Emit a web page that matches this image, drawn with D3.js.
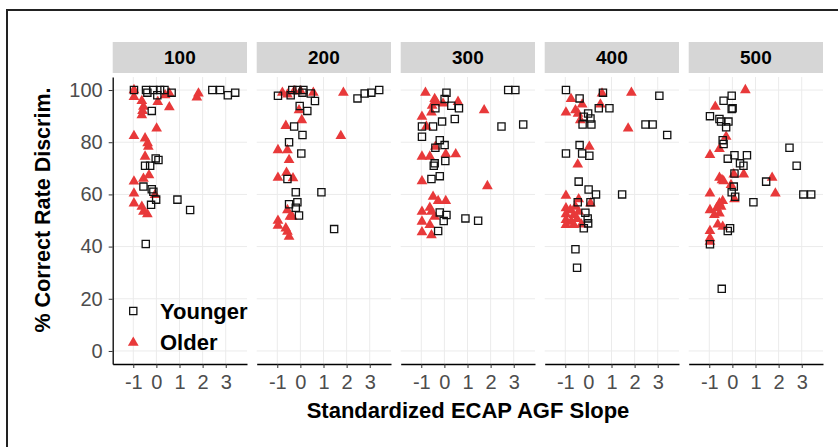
<!DOCTYPE html>
<html>
<head>
<meta charset="utf-8">
<script src="https://cdn.jsdelivr.net/npm/d3@7"></script>
<style>
  body { margin: 0; background: #fff; }
  text { font-family: "Liberation Sans", Arial, sans-serif; }
</style>
</head>
<body>
<script>
// facet labels
var panels = ["100", "200", "300", "400", "500"];
var xTicks = [-1, 0, 1, 2, 3];
var yTicks = [0, 20, 40, 60, 80, 100];

// [slope, % correct]
var young100 = [[-0.97,100],[-0.45,100],[-0.39,99],[-0.13,100],[0.04,98],[0.16,100],[0.35,100],[0.66,99],
  [2.42,100],[2.76,100],[3.09,98],[3.41,99],[-0.2,92],[-0.03,73.8],[0.09,73.2],[-0.49,71],[-0.27,71],
  [-0.56,63],[-0.2,62],[-0.13,61],[-0.01,58],[-0.23,56],[0.91,58],[1.46,54],[-0.46,41]];
var old100 = [[-0.97,100],[-0.97,97.4],[-0.63,95.8],[-0.56,93.6],[-0.6,92],[-0.63,90.4],[0.06,95.5],[0.56,93.4],
  [0.01,85.3],[-0.97,82.4],[-0.49,81.5],[-0.38,79.6],[-0.35,78.3],[-0.49,74.5],[-0.97,65],[-0.56,66],
  [-0.32,67.4],[-0.97,60.4],[-0.06,59.8],[-0.97,56.6],[-0.63,55.3],[-0.56,53.4],[-0.39,52.4],
  [1.82,98.7],[1.75,97.2],[0.56,98.7],[0.38,98]];

var young200 = [[-0.97,97.8],[-0.42,98],[-0.35,100],[-0.13,100],[0.13,100],[0.09,99],[0.45,98.7],[0.63,95.8],
  [2.47,96.8],[2.78,98.7],[3.07,99],[3.41,100],[-0.03,93.9],[0.3,92],[-0.27,86],[0.09,82.8],[-0.49,80],
  [0.04,75.7],[-0.56,65.9],[-0.2,60.8],[0.91,60.8],[-0.49,56.2],[-0.13,57],[-0.2,54.9],[-0.06,51.9],[1.46,46.7]];
var old200 = [[-0.78,99],[-0.56,98.3],[-0.27,99.6],[0.01,99.6],[0.56,99],[1.86,99],[-0.06,92.3],[0.06,88.5],
  [-0.63,86.3],[1.75,82.4],[-0.97,77],[-0.56,77],[-0.49,73.2],[-0.97,66.4],[-0.6,68.3],[-0.32,66.2],
  [-0.56,54],[-0.45,51.5],[-0.35,51.5],[-0.97,49.9],[-0.97,48],[-0.63,47],[-0.56,45.7],[-0.49,43.8]];

var young300 = [[0.09,99],[0.01,96.6],[-0.39,93],[0.3,94],[0.63,93],[2.76,100],[3.07,100],[-0.1,87.9],
  [0.45,88.9],[-0.97,86],[-0.49,86],[2.47,86],[3.41,86.8],[-0.97,82.1],[-0.2,80.8],[0.01,78.9],[-0.39,77.9],
  [0.04,72.8],[-0.42,71.9],[-0.46,71],[-0.2,67],[-0.56,65.9],[-0.2,53.1],[0.09,52.1],[-0.03,49.8],
  [0.91,50.8],[1.46,49.9],[-0.27,46]];
var old300 = [[-0.82,99],[-0.42,96.6],[-0.35,95.3],[-0.53,94],[-0.06,94.9],[0.59,95.5],[1.72,92.3],[-0.97,89.8],
  [-0.56,91.4],[-0.78,86],[-0.39,78.3],[-0.97,74.5],[-0.63,74.5],[0.06,75.4],[0.49,75.4],[-0.97,65.1],
  [1.86,63.2],[-0.49,59.1],[-0.27,57.5],[0.06,57.5],[-0.63,54.9],[-0.97,53.4],[-0.56,53.4],[-0.97,49.6],
  [-0.63,48.3],[-0.97,45.5],[-0.56,44.4],[-0.42,51.5]];

var young400 = [[-0.97,100],[-0.38,96.8],[0.63,99],[3.07,97.8],[0.45,93],[0.91,93],[-0.01,91],[-0.2,89.8],
  [0.09,89.1],[-0.25,86.8],[0.13,86.8],[2.47,86.8],[2.78,86.8],[3.41,82.8],[-0.38,78.9],[-0.97,75.7],
  [-0.27,75.7],[0.04,74.8],[-0.42,64.9],[0.01,61.9],[0.33,60],[1.46,60],[-0.46,57],[0.09,57],[-0.13,53],
  [-0.03,50.8],[-0.01,48.9],[-0.2,47],[-0.56,39],[-0.49,31.9]];
var old400 = [[-0.75,96.6],[-0.27,94.5],[-0.97,91.4],[-0.56,92.3],[-0.45,91],[-0.35,88.5],[0.59,98.7],[0.52,94.5],
  [1.86,99],[1.72,85.3],[0.04,78.3],[-0.46,71.5],[-0.97,59.5],[-0.42,58.2],[0.09,56.6],[-0.97,54.7],
  [-0.78,54],[-0.56,55.3],[-0.97,52.4],[-0.63,52.1],[-0.97,50.2],[-0.74,49.6],[-0.49,50.6],[-0.97,48.3],
  [-0.63,48.3],[-0.3,48.5],[-0.42,53.4]];

var young500 = [[-0.03,97.8],[-0.38,95.9],[0.01,93],[-0.03,92.7],[-0.97,90],[-0.56,88.9],[-0.49,87.9],[-0.17,87.9],
  [-0.27,85.7],[-0.42,80.8],[-0.38,79.3],[2.47,77.9],[-0.2,73.7],[0.09,75],[0.63,75],[0.33,71.9],[0.48,71],
  [2.78,71],[0.09,68],[1.46,64.9],[0.06,63],[-0.03,60.8],[0.12,59.1],[3.07,60],[3.41,60],[0.91,57],
  [-0.1,47],[-0.2,46],[-0.97,40.9],[-0.46,23.8]];
var old500 = [[0.56,100],[-0.74,93.6],[-0.27,82.1],[-0.56,77.4],[-0.97,75.1],[-0.45,65.5],[-0.56,66.4],[-0.38,65.1],
  [0.06,67.7],[0.49,67.7],[-0.06,63.6],[1.72,66.4],[1.86,60.4],[-0.97,60.4],[0.09,58.2],[-0.42,57.5],
  [-0.56,56.6],[-0.97,54],[-0.68,54.7],[-0.49,55.3],[-0.78,52.1],[-0.56,52.7],[-0.63,48.5],[-0.42,47.6],
  [-0.97,46],[-0.97,43.2],[-0.97,41.9]];

var younger = [young100, young200, young300, young400, young500];
var older = [old100, old200, old300, old400, old500];

var width = 838, height = 447;
var panelLeft = 112.7, panelW = 134.3, step = 144;
var stripTop = 42, stripH = 31;
var plotTop = 77, plotBottom = 364;
var red = "#e8393a";
var fontStack = "'Liberation Sans', Arial, sans-serif";

var svg = d3.select("body").append("svg")
  .attr("width", width)
  .attr("height", height);

svg.append("rect").attr("width", width).attr("height", height).attr("fill", "#fff");

// outer frame (only the top/left edges show)
svg.append("path")
  .attr("d", "M7," + height + "V10H" + width)
  .attr("fill", "none")
  .attr("stroke", "#222")
  .attr("stroke-width", 2);

var x = d3.scaleLinear().domain([-1.89, 3.92]).range([0, panelW]);
var y = d3.scaleLinear().domain([-5, 105]).range([plotBottom, plotTop]);

var square = d3.symbol().type(d3.symbolSquare).size(52);
var triangle = d3.symbol().type(d3.symbolTriangle).size(50);
var plain = function (d) { return String(d); };

panels.forEach(function (p, i) {
  var g = svg.append("g")
    .attr("transform", "translate(" + (panelLeft + i * step) + ",0)");

  g.append("rect")
    .attr("x", 0).attr("y", stripTop)
    .attr("width", panelW).attr("height", stripH)
    .attr("fill", "#d6d6d6");
  g.append("text")
    .attr("x", panelW / 2).attr("y", stripTop + stripH / 2)
    .attr("text-anchor", "middle")
    .attr("dominant-baseline", "central")
    .attr("font-weight", "bold")
    .attr("font-size", 19)
    .text(p);

  // grid
  g.selectAll(".vg").data(xTicks).enter().append("line")
    .attr("x1", function (d) { return x(d); }).attr("x2", function (d) { return x(d); })
    .attr("y1", plotTop).attr("y2", plotBottom)
    .attr("stroke", "#ebebeb").attr("stroke-width", 1);
  g.selectAll(".hg").data(yTicks).enter().append("line")
    .attr("x1", 0).attr("x2", panelW)
    .attr("y1", function (d) { return y(d); }).attr("y2", function (d) { return y(d); })
    .attr("stroke", "#ebebeb").attr("stroke-width", 1);

  // x axis
  var xa = g.append("g")
    .attr("transform", "translate(0," + plotBottom + ")")
    .call(d3.axisBottom(x).tickValues(xTicks).tickFormat(plain)
      .tickSize(4).tickSizeOuter(0).tickPadding(7));
  xa.select(".domain").attr("stroke", "#000").attr("stroke-width", 1.3);
  xa.selectAll(".tick line").attr("stroke", "#333");
  xa.selectAll(".tick text")
    .attr("fill", "#4d4d4d").attr("font-size", 20)
    .attr("font-family", fontStack);

  if (i === 0) {
    var ya = g.append("g")
      .call(d3.axisLeft(y).tickValues(yTicks).tickFormat(plain)
        .tickSize(4).tickSizeOuter(0).tickPadding(6));
    ya.select(".domain").attr("stroke", "#000").attr("stroke-width", 1.3);
    ya.selectAll(".tick line").attr("stroke", "#333");
    ya.selectAll(".tick text")
      .attr("fill", "#4d4d4d").attr("font-size", 20)
      .attr("font-family", fontStack);
  }

  g.selectAll(".old").data(older[i]).enter().append("path")
    .attr("d", triangle)
    .attr("transform", function (d) { return "translate(" + x(d[0]) + "," + y(d[1]) + ")"; })
    .attr("fill", red);

  g.selectAll(".young").data(younger[i]).enter().append("path")
    .attr("d", square)
    .attr("transform", function (d) { return "translate(" + x(d[0]) + "," + y(d[1]) + ")"; })
    .attr("fill", "none")
    .attr("stroke", "#111")
    .attr("stroke-width", 1.3);

  if (i === 0) {
    var legend = [["Younger", square, "none", "#111", 311], ["Older", triangle, red, "none", 342.7]];
    legend.forEach(function (l) {
      g.append("path")
        .attr("d", l[1])
        .attr("transform", "translate(" + x(-1) + "," + l[4] + ")")
        .attr("fill", l[2]).attr("stroke", l[3]).attr("stroke-width", 1.3);
      g.append("text")
        .attr("x", 160 - panelLeft).attr("y", l[4])
        .attr("dominant-baseline", "central")
        .attr("font-weight", "bold").attr("font-size", 22)
        .text(l[0]);
    });
  }
});

svg.append("text")
  .attr("transform", "translate(43,210) rotate(-90)")
  .attr("text-anchor", "middle")
  .attr("dominant-baseline", "central")
  .attr("font-weight", "bold").attr("font-size", 21.5)
  .text("% Correct Rate Discrim.");

svg.append("text")
  .attr("x", 468).attr("y", 410)
  .attr("text-anchor", "middle")
  .attr("dominant-baseline", "central")
  .attr("font-weight", "bold").attr("font-size", 22)
  .text("Standardized ECAP AGF Slope");
</script>
</body>
</html>
